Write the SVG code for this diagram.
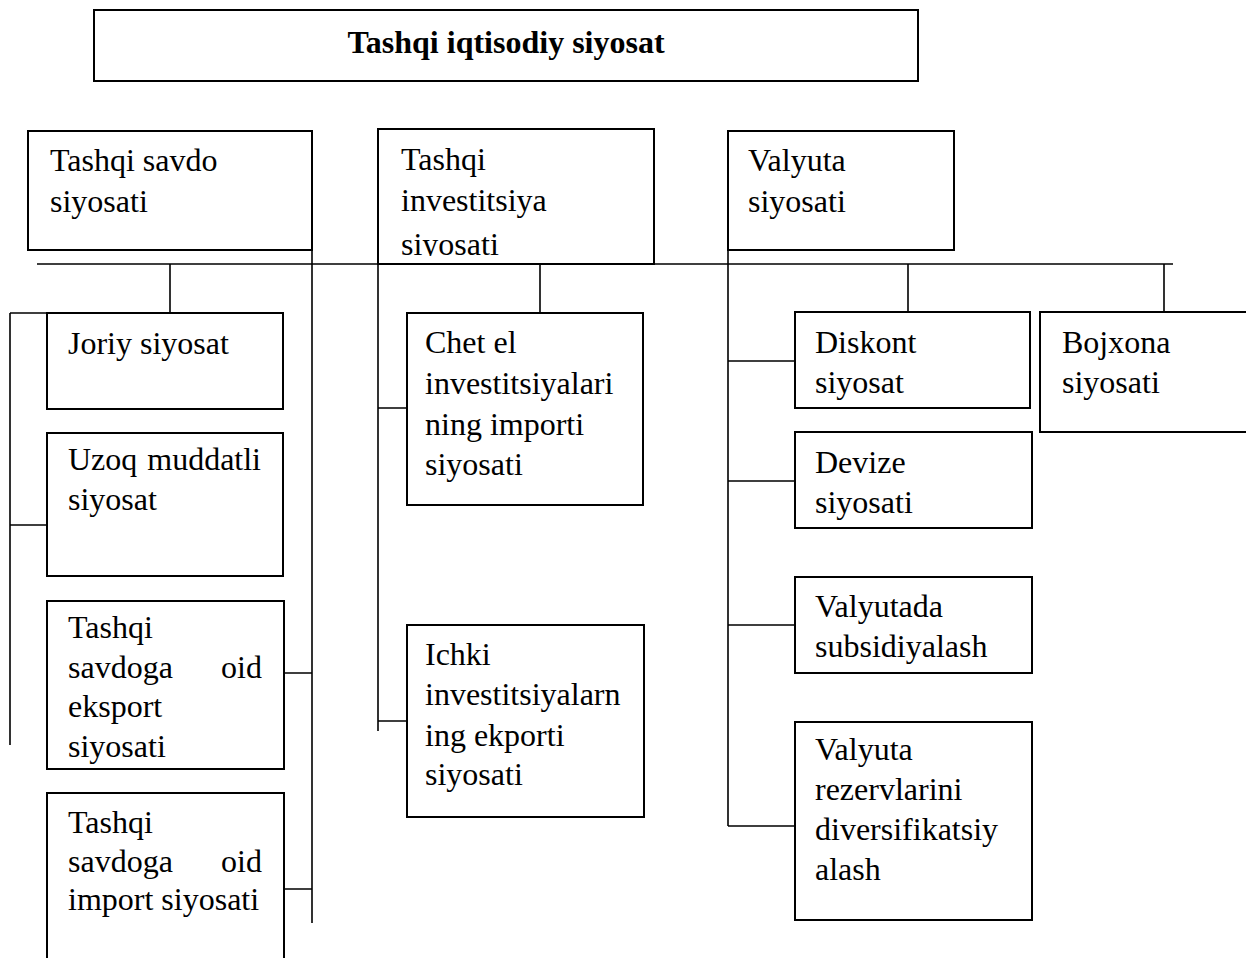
<svg xmlns="http://www.w3.org/2000/svg" width="1246" height="958" viewBox="0 0 1246 958">
<style>
.box{fill:#fff;stroke:#000;stroke-width:2}
.t{font-family:"Liberation Serif","Times New Roman",serif;font-size:32px;fill:#000}
.b{font-weight:bold;text-anchor:middle}
.e{text-anchor:end}
.c{fill:none;stroke:#000;stroke-width:1.6}
</style>
<defs>
<clipPath id="clipInv"><rect x="378" y="129" width="276" height="127"/></clipPath>
</defs>
<rect width="1246" height="958" fill="#fff"/>
<g id="connectors">
<path class="c" d="M37 264H1173M170 264V313M540 264V313M908 264V312M1164 264V312"/>
<path class="c" d="M10 313H47M10 313V745M10 525H47"/>
<path class="c" d="M312 131V923M284 673H312M284 889H312"/>
<path class="c" d="M378 129V731M378 408H407M378 721H407"/>
<path class="c" d="M728 131V826M728 361H795M728 481H795M728 625H795M728 826H795"/>
</g>
<g id="root"><rect class="box" x="94" y="10" width="824" height="71"/><text class="t b" x="506" y="53">Tashqi iqtisodiy siyosat</text></g>
<g id="savdo"><rect class="box" x="28" y="131" width="284" height="119"/><text class="t" x="50" y="171">Tashqi savdo</text><text class="t" x="50" y="212">siyosati</text></g>
<g id="investitsiya"><rect class="box" x="378" y="129" width="276" height="135"/><g clip-path="url(#clipInv)"><text class="t" x="401" y="170">Tashqi</text><text class="t" x="401" y="211">investitsiya</text><text class="t" x="401" y="255">siyosati</text></g></g>
<g id="valyuta"><rect class="box" x="728" y="131" width="226" height="119"/><text class="t" x="748" y="171">Valyuta</text><text class="t" x="748" y="212">siyosati</text></g>
<g id="joriy"><rect class="box" x="47" y="313" width="236" height="96"/><text class="t" x="68" y="354">Joriy siyosat</text></g>
<g id="uzoq"><rect class="box" x="47" y="433" width="236" height="143"/><text class="t" x="68" y="470">Uzoq</text><text class="t e" x="261" y="470">muddatli</text><text class="t" x="68" y="510">siyosat</text></g>
<g id="eksport"><rect class="box" x="47" y="601" width="237" height="168"/><text class="t" x="68" y="638">Tashqi</text><text class="t" x="68" y="678">savdoga</text><text class="t e" x="262" y="678">oid</text><text class="t" x="68" y="717">eksport</text><text class="t" x="68" y="757">siyosati</text></g>
<g id="import"><rect class="box" x="47" y="793" width="237" height="180"/><text class="t" x="68" y="833">Tashqi</text><text class="t" x="68" y="872">savdoga</text><text class="t e" x="262" y="872">oid</text><text class="t" x="68" y="910">import siyosati</text></g>
<g id="chetel"><rect class="box" x="407" y="313" width="236" height="192"/><text class="t" x="425" y="353">Chet el</text><text class="t" x="425" y="394">investitsiyalari</text><text class="t" x="425" y="435">ning importi</text><text class="t" x="425" y="475">siyosati</text></g>
<g id="ichki"><rect class="box" x="407" y="625" width="237" height="192"/><text class="t" x="425" y="665">Ichki</text><text class="t" x="425" y="705">investitsiyalarn</text><text class="t" x="425" y="746">ing ekporti</text><text class="t" x="425" y="785">siyosati</text></g>
<g id="diskont"><rect class="box" x="795" y="312" width="235" height="96"/><text class="t" x="815" y="353">Diskont</text><text class="t" x="815" y="393">siyosat</text></g>
<g id="bojxona"><rect class="box" x="1040" y="312" width="220" height="120"/><text class="t" x="1062" y="353">Bojxona</text><text class="t" x="1062" y="393">siyosati</text></g>
<g id="devize"><rect class="box" x="795" y="432" width="237" height="96"/><text class="t" x="815" y="473">Devize</text><text class="t" x="815" y="513">siyosati</text></g>
<g id="subsid"><rect class="box" x="795" y="577" width="237" height="96"/><text class="t" x="815" y="617">Valyutada</text><text class="t" x="815" y="657">subsidiyalash</text></g>
<g id="rezerv"><rect class="box" x="795" y="722" width="237" height="198"/><text class="t" x="815" y="760">Valyuta</text><text class="t" x="815" y="800">rezervlarini</text><text class="t" x="815" y="840">diversifikatsiy</text><text class="t" x="815" y="880">alash</text></g>
</svg>
